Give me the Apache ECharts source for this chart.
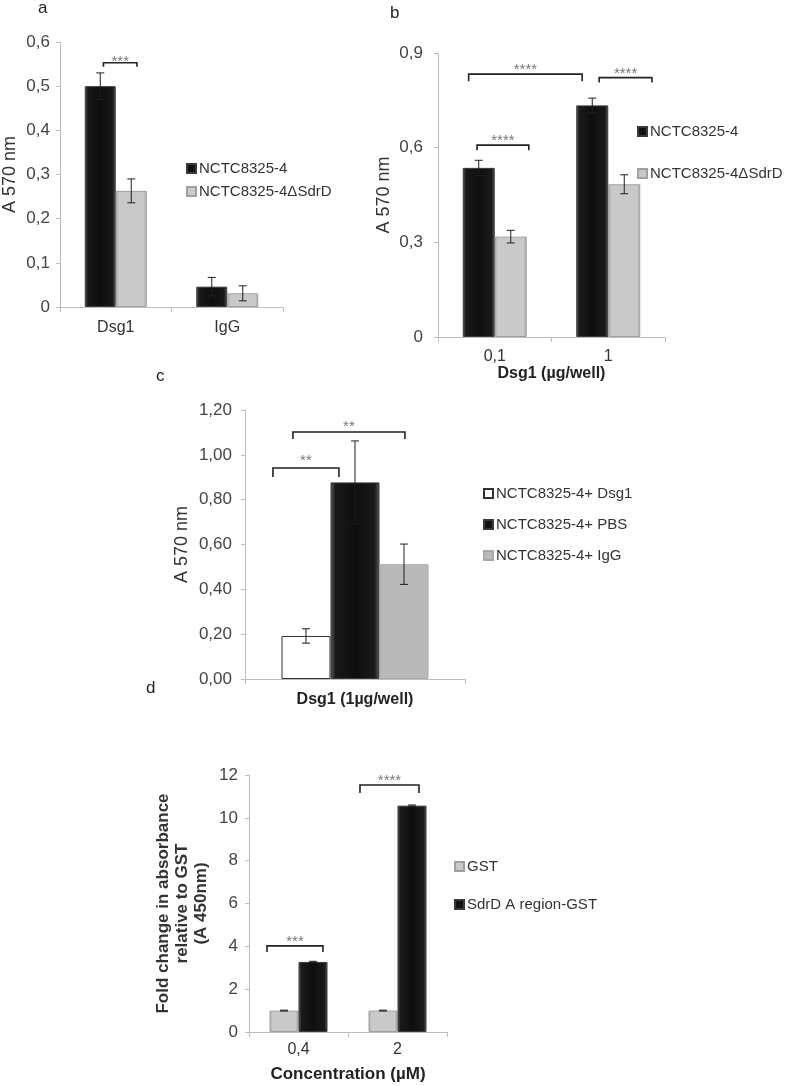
<!DOCTYPE html>
<html>
<head>
<meta charset="utf-8">
<script src="https://cdn.jsdelivr.net/npm/echarts@6/dist/echarts.min.js"></script>
<style>
  html, body { margin: 0; padding: 0; background: #ffffff; }
  #chart { width: 787px; height: 1086px; }
</style>
</head>
<body>
<div id="chart"></div>
<script>
// ---------------- DATA ----------------
// Panel a
const aCategories = ['Dsg1', 'IgG'];
const aSeriesNames = ['NCTC8325-4', 'NCTC8325-4ΔSdrD'];
const aWildValues = [0.500, 0.046];
const aWildErrors = [0.030, 0.021];
const aMutantValues = [0.263, 0.031];
const aMutantErrors = [0.027, 0.017];
const aYTicks = [0, 0.1, 0.2, 0.3, 0.4, 0.5, 0.6];

// Panel b
const bCategories = ['0,1', '1'];
const bWildValues = [0.536, 0.734];
const bWildErrors = [0.024, 0.023];
const bMutantValues = [0.318, 0.484];
const bMutantErrors = [0.020, 0.030];
const bYTicks = [0, 0.3, 0.6, 0.9];

// Panel c
const cCategories = ['Dsg1 (1µg/well)'];
const cSeriesNames = ['NCTC8325-4+ Dsg1', 'NCTC8325-4+ PBS', 'NCTC8325-4+ IgG'];
const cDsg1Values = [0.192];
const cDsg1Errors = [0.032];
const cPbsValues = [0.877];
const cPbsErrors = [0.185];
const cIgGValues = [0.512];
const cIgGErrors = [0.090];
const cYTicks = [0, 0.2, 0.4, 0.6, 0.8, 1.0, 1.2];

// Panel d
const dCategories = ['0,4', '2'];
const dSeriesNames = ['GST', 'SdrD A region-GST'];
const dGstValues = [1.0, 1.0];
const dGstErrors = [0.02, 0.02];
const dSdrdValues = [3.27, 10.57];
const dSdrdErrors = [0.03, 0.03];
const dYTicks = [0, 2, 4, 6, 8, 10, 12];

// Significance annotations (category index, offset in bands, y value, stars)
const aBrackets = [{ c1: 0, o1: -0.11, c2: 0, o2: 0.19, y: 0.553, drop: 4, stars: '***', sdy: 6 }];
const bBrackets = [
  { c1: 0, o1: -0.23, c2: 1, o2: -0.23, y: 0.833, drop: 7, stars: '****', sdy: 9 },
  { c1: 1, o1: -0.08, c2: 1, o2: 0.385, y: 0.822, drop: 5, stars: '****', sdy: 9 },
  { c1: 0, o1: -0.156, c2: 0, o2: 0.30, y: 0.608, drop: 5, stars: '****', sdy: 9 }
];
const cBrackets = [
  { c1: 0, o1: -0.373, c2: 0, o2: -0.073, y: 0.941, drop: 9, stars: '**', sdy: 12 },
  { c1: 0, o1: -0.282, c2: 0, o2: 0.227, y: 1.102, drop: 7, stars: '**', sdy: 10 }
];
const dBrackets = [
  { c1: 0, o1: -0.318, c2: 0, o2: 0.247, y: 4.02, drop: 6, stars: '***', sdy: 9 },
  { c1: 1, o1: -0.379, c2: 1, o2: 0.217, y: 11.53, drop: 8, stars: '****', sdy: 9 }
];

// ---------------- STYLES ----------------
const FONT = "'Liberation Sans', Arial, sans-serif";
const blackFill = {
  type: 'linear', x: 0, y: 0, x2: 1, y2: 0,
  colorStops: [
    { offset: 0, color: '#5c5c5c' }, { offset: 0.1, color: '#1a1a1a' },
    { offset: 0.5, color: '#0e0e0e' }, { offset: 0.9, color: '#1a1a1a' },
    { offset: 1, color: '#5c5c5c' }
  ]
};
const grayFill = {
  type: 'linear', x: 0, y: 0, x2: 1, y2: 0,
  colorStops: [
    { offset: 0, color: '#a6a6a6' }, { offset: 0.1, color: '#c9c9c9' },
    { offset: 0.9, color: '#c9c9c9' }, { offset: 1, color: '#a6a6a6' }
  ]
};
const grayFillC = '#b9b9b9';
const blackStyle = { color: blackFill, borderColor: '#3a3a3a', borderWidth: 1 };
const grayStyle = { color: grayFill, borderColor: '#a0a0a0', borderWidth: 1 };

function yAxis(gridIndex, ticks, labelFmt, name, nameGap, nameStyle, margin) {
  return {
    type: 'value', gridIndex: gridIndex,
    min: ticks[0], max: ticks[ticks.length - 1], interval: ticks[1] - ticks[0],
    axisLine: { show: true, lineStyle: { color: '#bdbdbd', width: 1 } },
    axisTick: { show: true, length: 4, lineStyle: { color: '#bdbdbd' } },
    splitLine: { show: false },
    axisLabel: { formatter: labelFmt, fontSize: 17, color: '#444', fontFamily: FONT, margin: margin },
    name: name, nameLocation: 'middle', nameRotate: 90, nameGap: nameGap,
    nameTextStyle: Object.assign({ fontFamily: FONT, color: '#333' }, nameStyle)
  };
}

function xAxis(gridIndex, cats, labelStyle, margin, name, nameGap, nameStyle) {
  const ax = {
    type: 'category', gridIndex: gridIndex, data: cats,
    axisLine: { show: true, lineStyle: { color: '#bdbdbd', width: 1 } },
    axisTick: { show: true, length: 5, alignWithLabel: false, lineStyle: { color: '#bdbdbd' } },
    axisLabel: Object.assign({ fontFamily: FONT, color: '#333', fontSize: 16, margin: margin }, labelStyle),
    splitLine: { show: false }
  };
  if (name) {
    ax.name = name; ax.nameLocation = 'middle'; ax.nameGap = nameGap;
    ax.nameTextStyle = Object.assign({ fontFamily: FONT, color: '#222' }, nameStyle);
  }
  return ax;
}

function barSeries(name, axisIdx, values, style, width) {
  return {
    type: 'bar', name: name, xAxisIndex: axisIdx, yAxisIndex: axisIdx,
    data: values, barWidth: width, barGap: '0%', itemStyle: style,
    emphasis: { disabled: true }, z: 2
  };
}

function errorSeries(axisIdx, values, errors, pxOffset) {
  return {
    type: 'custom', xAxisIndex: axisIdx, yAxisIndex: axisIdx, z: 10, silent: true,
    data: values.map(function (v, i) { return [i, v, errors[i]]; }),
    renderItem: function (params, api) {
      const i = api.value(0), v = api.value(1), e = api.value(2);
      const p = api.coord([i, v]);
      const x = p[0] + pxOffset;
      const hi = api.coord([i, v + e])[1];
      const lo = api.coord([i, v - e])[1];
      const st = { stroke: '#1e1e1e', lineWidth: 1 };
      const hw = 4;
      return {
        type: 'group', children: [
          { type: 'line', shape: { x1: x, y1: hi, x2: x, y2: lo }, style: st },
          { type: 'line', shape: { x1: x - hw, y1: hi, x2: x + hw, y2: hi }, style: st },
          { type: 'line', shape: { x1: x - hw, y1: lo, x2: x + hw, y2: lo }, style: st }
        ]
      };
    }
  };
}

function bracketSeries(axisIdx, specs) {
  return {
    type: 'custom', xAxisIndex: axisIdx, yAxisIndex: axisIdx, z: 11, silent: true,
    data: specs.map(function (s) { return [s.c1, s.y]; }),
    renderItem: function (params, api) {
      const s = specs[params.dataIndex];
      const band = api.size([1, 0])[0];
      const p1 = api.coord([s.c1, s.y]);
      const p2 = api.coord([s.c2, s.y]);
      const x1 = p1[0] + s.o1 * band;
      const x2 = p2[0] + s.o2 * band;
      const y = p1[1];
      return {
        type: 'group', children: [
          { type: 'polyline', shape: { points: [[x1, y + s.drop], [x1, y], [x2, y], [x2, y + s.drop]] },
            style: { stroke: '#222', lineWidth: 1.6, fill: null } },
          { type: 'text', style: { text: s.stars, x: (x1 + x2) / 2, y: y - s.sdy + 5,
            align: 'center', verticalAlign: 'middle', fontSize: 15, fontFamily: FONT, fill: '#777' } }
        ]
      };
    }
  };
}

function legend(names, left, top, gap) {
  return {
    data: names, orient: 'vertical', left: left, top: top, itemGap: gap,
    itemWidth: 9, itemHeight: 9, selectedMode: false, icon: 'rect',
    textStyle: { fontFamily: FONT, fontSize: 15, color: '#333', padding: [0, 0, 0, -2] }
  };
}

const option = {
  animation: false,
  backgroundColor: '#ffffff',
  grid: [
    { left: 60, top: 42, width: 223, height: 265, outerBoundsMode: 'none' },
    { left: 438, top: 53, width: 227, height: 284, outerBoundsMode: 'none' },
    { left: 245, top: 410, width: 220, height: 269, outerBoundsMode: 'none' },
    { left: 249, top: 775, width: 198, height: 257, outerBoundsMode: 'none' }
  ],
  xAxis: [
    xAxis(0, aCategories, {}, 13),
    xAxis(1, bCategories, {}, 12, 'Dsg1 (µg/well)', 27, { fontSize: 16, fontWeight: 'bold' }),
    xAxis(2, cCategories, { fontWeight: 'bold', color: '#222' }, 13),
    xAxis(3, dCategories, {}, 10, 'Concentration (µM)', 34, { fontSize: 17, fontWeight: 'bold' })
  ],
  yAxis: [
    yAxis(0, aYTicks, function (v) { return v === 0 ? '0' : v.toFixed(1).replace('.', ','); }, 'A 570 nm', 41, { fontSize: 18 }, 10),
    yAxis(1, bYTicks, function (v) { return v === 0 ? '0' : v.toFixed(1).replace('.', ','); }, 'A 570 nm', 45, { fontSize: 18 }, 15),
    yAxis(2, cYTicks, function (v) { return v.toFixed(2).replace('.', ','); }, 'A 570 nm', 54, { fontSize: 18 }, 13),
    yAxis(3, dYTicks, function (v) { return String(v); },
      'Fold change in absorbance\nrelative to GST\n(A 450nm)', 38, { fontSize: 17, fontWeight: 'bold', lineHeight: 19 }, 11)
  ],
  legend: [
    legend(aSeriesNames, 181, 156, 8),
    legend(aSeriesNames, 632, 119, 27),
    legend(cSeriesNames, 478, 481, 16),
    legend(dSeriesNames, 449, 854, 23)
  ],
  graphic: [
    { type: 'text', left: 38, top: 0, style: { text: 'a', fontSize: 17, fontFamily: FONT, fill: '#222' } },
    { type: 'text', left: 390, top: 5, style: { text: 'b', fontSize: 17, fontFamily: FONT, fill: '#222' } },
    { type: 'text', left: 156, top: 368, style: { text: 'c', fontSize: 17, fontFamily: FONT, fill: '#222' } },
    { type: 'text', left: 146, top: 680, style: { text: 'd', fontSize: 17, fontFamily: FONT, fill: '#222' } }
  ],
  series: [
    // a
    barSeries(aSeriesNames[0], 0, aWildValues, blackStyle, 31),
    barSeries(aSeriesNames[1], 0, aMutantValues, grayStyle, 31),
    errorSeries(0, aWildValues, aWildErrors, -15.5),
    errorSeries(0, aMutantValues, aMutantErrors, 15.5),
    bracketSeries(0, aBrackets),
    // b
    barSeries(aSeriesNames[0], 1, bWildValues, blackStyle, 32),
    barSeries(aSeriesNames[1], 1, bMutantValues, grayStyle, 32),
    errorSeries(1, bWildValues, bWildErrors, -16),
    errorSeries(1, bMutantValues, bMutantErrors, 16),
    bracketSeries(1, bBrackets),
    // c
    barSeries(cSeriesNames[0], 2, cDsg1Values, { color: '#ffffff', borderColor: '#333', borderWidth: 1 }, 49),
    barSeries(cSeriesNames[1], 2, cPbsValues, blackStyle, 49),
    barSeries(cSeriesNames[2], 2, cIgGValues, { color: grayFillC, borderColor: '#a8a8a8', borderWidth: 1 }, 49),
    errorSeries(2, cDsg1Values, cDsg1Errors, -49),
    errorSeries(2, cPbsValues, cPbsErrors, 0),
    errorSeries(2, cIgGValues, cIgGErrors, 49),
    bracketSeries(2, cBrackets),
    // d
    barSeries(dSeriesNames[0], 3, dGstValues, grayStyle, 29),
    barSeries(dSeriesNames[1], 3, dSdrdValues, blackStyle, 29),
    errorSeries(3, dGstValues, dGstErrors, -14.5),
    errorSeries(3, dSdrdValues, dSdrdErrors, 14.5),
    bracketSeries(3, dBrackets)
  ]
};

const chart = echarts.init(document.getElementById('chart'), null, { renderer: 'canvas', width: 787, height: 1086 });
chart.setOption(option);
</script>
</body>
</html>
